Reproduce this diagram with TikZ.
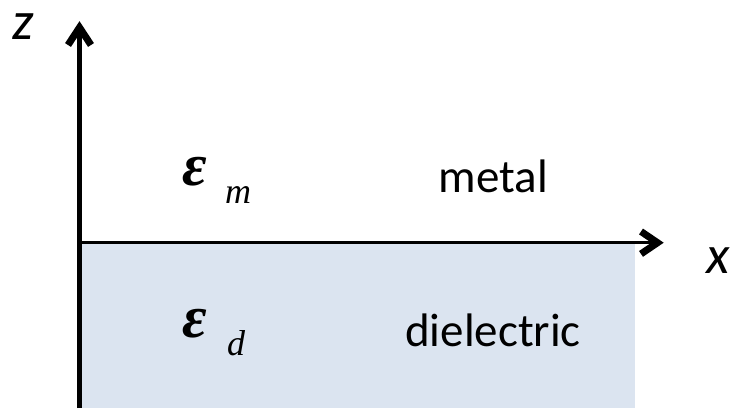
\documentclass[tikz,border=0pt]{standalone}
\usepackage{fontspec}
\setmainfont{Carlito}
\newfontfamily\timesfont{Liberation Serif}
\usetikzlibrary{arrows.meta}
\definecolor{dielblue}{HTML}{DBE4F0}
\tikzset{
  axisline/.style={draw=black, line cap=butt},
  chevron/.style={draw=black, line width=7pt, line join=miter, line cap=butt},
  lbl/.style={inner sep=0pt, anchor=base, font=\fontsize{47}{50}\selectfont},
  axlbl/.style={inner sep=0pt, anchor=base west, font=\fontsize{54}{58}\selectfont\itshape},
  eps/.style={inner sep=0pt, anchor=base west, font=\fontsize{60}{62}\selectfont\timesfont\bfseries\itshape},
  sub/.style={inner sep=0pt, anchor=base west, font=\fontsize{36}{40}\selectfont\timesfont\itshape}
}
\begin{document}
\begin{tikzpicture}[x=1pt,y=-1pt]
\useasboundingbox (0,0) rectangle (730,408);
\fill[dielblue] (79.5,242.7) rectangle (635,408);
\coordinate (zbot) at (79.5,408);
\coordinate (ztip) at (79.5,27.5);
\coordinate (o) at (79.5,242.7);
\coordinate (xtip) at (657.5,242.7);
\draw[axisline, line width=5pt] (zbot) -- (ztip);
\draw[axisline, line width=3pt] (o) -- (xtip);
\draw[chevron] (68,45) -- (ztip) -- (91,45);
\draw[chevron] (641,231.5) -- (xtip) -- (641,253.9);
\node[axlbl] (zl) at (12,39.5) {z};
\node[axlbl] (xl) at (706,273) {x};
\node[lbl] (metal) at (493.5,192) {metal};
\node[lbl] (diel) at (493,346) {dielectric};
\node[eps] (em) at (182,185) {ε};
\node[sub] (m) at (225,203) {m};
\node[eps] (ed) at (182,337) {ε};
\node[sub] (d) at (227,355) {d};
\end{tikzpicture}
\end{document}
